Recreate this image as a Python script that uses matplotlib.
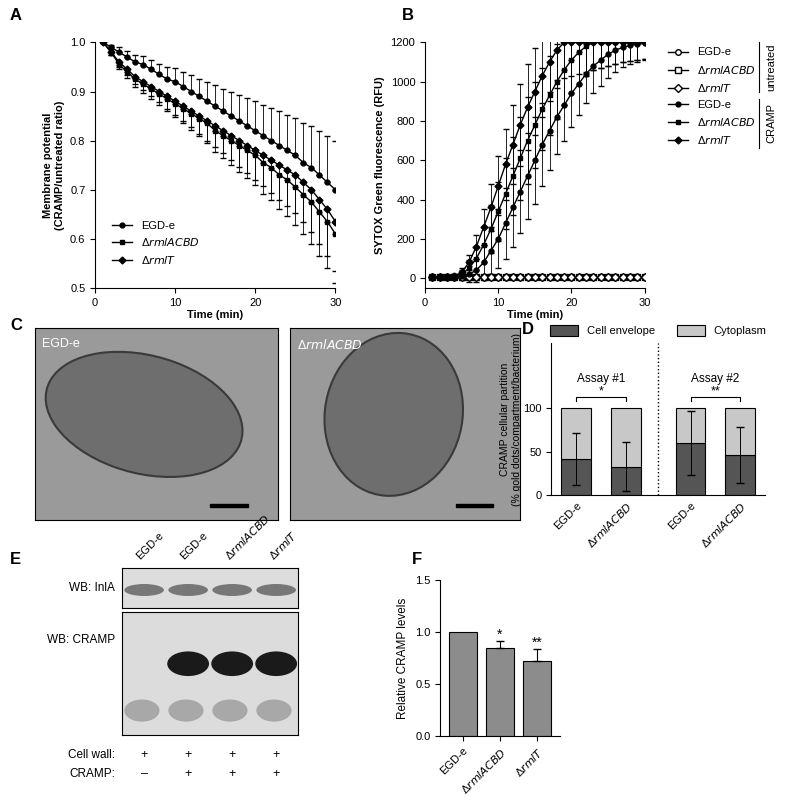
import matplotlib
matplotlib.use("Agg")
import matplotlib.pyplot as plt
import numpy as np
from matplotlib.patches import Ellipse, Rectangle
from matplotlib.lines import Line2D

plt.rcParams['font.family'] = ['Liberation Sans', 'DejaVu Sans']
plt.rcParams['font.size'] = 8

# ---- data ----
time_a = list(range(1, 31))
mp_egde = [1.0,0.99,0.98,0.97,0.96,0.955,0.945,0.935,0.925,0.92,0.91,0.9,0.89,0.88,0.87,0.86,0.85,0.84,0.83,0.82,0.81,0.80,0.79,0.78,0.77,0.755,0.745,0.73,0.715,0.70]
mp_acbd = [1.0,0.98,0.955,0.94,0.925,0.915,0.905,0.895,0.885,0.875,0.865,0.855,0.845,0.835,0.82,0.81,0.80,0.79,0.78,0.77,0.755,0.745,0.73,0.72,0.705,0.69,0.675,0.655,0.635,0.61]
mp_rmlt = [1.0,0.98,0.96,0.945,0.93,0.92,0.91,0.90,0.89,0.88,0.87,0.86,0.85,0.84,0.83,0.82,0.81,0.80,0.79,0.78,0.77,0.76,0.75,0.74,0.73,0.715,0.70,0.68,0.66,0.635]
mp_err = [0,0.005,0.01,0.012,0.015,0.017,0.02,0.022,0.025,0.027,0.03,0.033,0.036,0.04,0.043,0.046,0.05,0.053,0.056,0.06,0.063,0.066,0.07,0.073,0.077,0.08,0.085,0.09,0.095,0.1]

sx_unt = [5]*30
sx_egde = [5,5,5,5,10,20,40,80,140,200,280,360,440,520,600,680,750,820,880,940,990,1040,1080,1110,1140,1160,1175,1185,1190,1195]
sx_acbd = [5,5,5,10,20,50,100,170,250,340,430,520,610,700,780,860,930,1000,1060,1110,1150,1180,1200,1200,1200,1200,1200,1200,1200,1200]
sx_rmlt = [5,5,5,10,30,80,160,260,360,470,580,680,780,870,950,1030,1100,1160,1200,1200,1200,1200,1200,1200,1200,1200,1200,1200,1200,1200]
sx_err = [5,5,5,10,20,40,60,90,120,150,180,200,210,220,220,210,200,190,180,170,160,150,140,130,120,110,100,95,90,85]

d_labels = ['EGD-e', 'ΔrmlACBD', 'EGD-e', 'ΔrmlACBD']
d_env = [42, 33, 60, 46]
d_env_err = [30, 28, 37, 32]

f_labels = ['EGD-e', 'ΔrmlACBD', 'ΔrmlT']
f_vals = [1.0, 0.85, 0.72]
f_err = [0.0, 0.06, 0.12]

e_lanes = ['EGD-e', 'EGD-e', 'ΔrmlACBD', 'ΔrmlT']
e_cellwall = ['+', '+', '+', '+']
e_cramp = ['–', '+', '+', '+']

def fmt(l):
    return l if not l.startswith('Δ') else r'Δ$\it{' + l[1:] + '}$'

fig = plt.figure(figsize=(7.93, 8.0), dpi=100)

def lab(x, y, s):
    fig.text(x/793, 1-y/800, s, fontsize=12, fontweight='bold', va='center', ha='left')

lab(10, 15, 'A'); lab(402, 15, 'B'); lab(10, 325, 'C'); lab(522, 330, 'D'); lab(10, 560, 'E'); lab(412, 560, 'F')

def style(ax):
    for s in ['top', 'right']:
        ax.spines[s].set_visible(False)
    ax.tick_params(labelsize=8)

# ---- A ----
ax = fig.add_axes([0.120, 0.64, 0.303, 0.307])
for y, m in [(mp_egde, 'o'), (mp_acbd, 's'), (mp_rmlt, 'D')]:
    up = y is mp_egde
    ax.errorbar(time_a, y, yerr=[[0]*30 if up else mp_err, mp_err if up else [0]*30], color='k', marker=m, ms=3.5, lw=1, elinewidth=0.6, capsize=2)
ax.set_xlim(0, 30); ax.set_ylim(0.5, 1.0)
ax.set_xticks([0, 10, 20, 30]); ax.set_yticks(np.arange(0.5, 1.01, 0.1))
ax.set_xlabel('Time (min)', fontweight='bold', labelpad=2)
ax.set_ylabel('Membrane potential\n(CRAMP/untreated ratio)', fontweight='bold')
hA = [Line2D([], [], color='k', marker=m, ms=3.5, lw=1) for m in 'osD']
ax.legend(hA, [fmt(l) for l in ['EGD-e', 'ΔrmlACBD', 'ΔrmlT']], frameon=False, loc='lower left', bbox_to_anchor=(0.03, 0.05), fontsize=8, handlelength=1.8)
style(ax)

# ---- B ----
ax = fig.add_axes([0.536, 0.64, 0.277, 0.307])
for m in 'osD':
    ax.errorbar(time_a, sx_unt, yerr=5, color='k', marker=m, mfc='white', ms=4, lw=1, elinewidth=0.6, capsize=1.5)
for y, m in [(sx_egde, 'o'), (sx_acbd, 's'), (sx_rmlt, 'D')]:
    ax.errorbar(time_a, y, yerr=sx_err, color='k', marker=m, ms=3.5, lw=1, elinewidth=0.6, capsize=2)
ax.set_xlim(0, 30); ax.set_ylim(-50, 1200)
ax.set_xticks([0, 10, 20, 30]); ax.set_yticks(range(0, 1201, 200))
ax.set_xlabel('Time (min)', fontweight='bold', labelpad=2)
ax.set_ylabel('SYTOX Green fluorescence (RFU)', fontweight='bold')
style(ax)
hB = [Line2D([], [], color='k', marker=m, mfc='white', ms=4, lw=1) for m in 'osD'] + \
     [Line2D([], [], color='k', marker=m, ms=3.5, lw=1) for m in 'osD']
lB = [fmt(l) for l in ['EGD-e', 'ΔrmlACBD', 'ΔrmlT'] * 2]
ax.legend(hB, lB, frameon=False, loc='upper left', bbox_to_anchor=(1.06, 1.02), fontsize=8, handlelength=1.8, labelspacing=0.55)
fig.add_artist(Line2D([0.957, 0.957], [0.885, 0.948], color='k', lw=0.8))
fig.add_artist(Line2D([0.957, 0.957], [0.815, 0.876], color='k', lw=0.8))
fig.text(0.973, 0.916, 'untreated', rotation=90, va='center', ha='center', fontsize=8)
fig.text(0.973, 0.846, 'CRAMP', rotation=90, va='center', ha='center', fontsize=8)

# ---- C (micrograph placeholders) ----
for rect, name, ang in [([0.044, 0.35, 0.306, 0.24], 'EGD-e', -25), ([0.366, 0.35, 0.29, 0.24], 'ΔrmlACBD', 85)]:
    ax = fig.add_axes(rect)
    ax.set_facecolor('#9a9a9a')
    ax.set_xlim(0, 1); ax.set_ylim(0, 1)
    ax.add_patch(Ellipse((0.45, 0.55), 0.85, 0.6, angle=ang, fc='#6e6e6e', ec='#3a3a3a', lw=1.5))
    ax.add_patch(Rectangle((0.72, 0.07), 0.16, 0.012, color='k'))
    ax.text(0.03, 0.95, fmt(name), color='white', va='top', fontsize=9)
    ax.set_xticks([]); ax.set_yticks([])

# ---- D ----
ax = fig.add_axes([0.695, 0.381, 0.27, 0.19])
xd = [0, 1, 2.3, 3.3]
ax.bar(xd, d_env, width=0.6, color='#555555', ec='k', lw=0.8, label='Cell envelope')
ax.bar(xd, [100-v for v in d_env], bottom=d_env, width=0.6, color='#c8c8c8', ec='k', lw=0.8, label='Cytoplasm')
ax.errorbar(xd, d_env, yerr=d_env_err, fmt='none', ecolor='k', elinewidth=0.7, capsize=3)
ax.axvline(1.65, color='k', ls=':', lw=1)
ax.set_ylim(0, 175); ax.set_xlim(-0.5, 3.8)
ax.set_yticks([0, 50, 100])
ax.set_xticks(xd)
ax.set_xticklabels([fmt(l) for l in d_labels], rotation=45, ha='right', rotation_mode='anchor', fontsize=8)
ax.set_ylabel('CRAMP cellular partition\n(% gold dots/compartment/bacterium)', fontsize=7.5, labelpad=1)
for a, b, s in [(0, 1, '*'), (2.3, 3.3, '**')]:
    ax.plot([a, a, b, b], [108, 113, 113, 108], color='k', lw=0.8)
    ax.text((a+b)/2, 112, s, ha='center', va='bottom', fontsize=9)
ax.text(0.5, 130, 'Assay #1', ha='center', fontsize=8.5)
ax.text(2.8, 130, 'Assay #2', ha='center', fontsize=8.5)
ax.spines['top'].set_visible(False); ax.spines['right'].set_visible(False); ax.spines['bottom'].set_visible(False)
ax.tick_params(axis='x', length=0)
ax.plot([-0.5, 3.8], [0, 0], color='k', lw=0.8, clip_on=False)
ax.legend(frameon=False, ncol=2, loc='lower center', bbox_to_anchor=(0.5, 0.98), fontsize=8, handlelength=2.5, handleheight=1.2)

# ---- E (blot placeholders) ----
bx0, bw = 0.154, 0.222
for i, l in enumerate(e_lanes):
    xc = bx0 + bw*(i+0.5)/4
    fig.text(xc - 0.012, 0.298, fmt(l), rotation=45, ha='left', va='bottom', fontsize=8)
ax = fig.add_axes([bx0, 0.24, bw, 0.05])
ax.set_facecolor('#dddddd'); ax.set_xlim(0, 4); ax.set_ylim(0, 1)
for i in range(4):
    ax.add_patch(Ellipse((i+0.5, 0.45), 0.9, 0.3, fc='#777777', ec='none'))
ax.set_xticks([]); ax.set_yticks([])
ax = fig.add_axes([bx0, 0.081, bw, 0.154])
ax.set_facecolor('#dcdcdc'); ax.set_xlim(0, 4); ax.set_ylim(0, 1)
for i in range(1, 4):
    ax.add_patch(Ellipse((i+0.5, 0.58), 0.95, 0.2, fc='#1a1a1a', ec='none'))
for i in range(4):
    ax.add_patch(Ellipse((i+0.45, 0.2), 0.8, 0.18, fc='#a8a8a8', ec='none'))
ax.set_xticks([]); ax.set_yticks([])
fig.text(0.145, 0.265, 'WB: InlA', ha='right', va='center', fontsize=8.5)
fig.text(0.145, 0.2, 'WB: CRAMP', ha='right', va='center', fontsize=8.5)
fig.text(0.145, 0.056, 'Cell wall:', ha='right', va='center', fontsize=8.5)
fig.text(0.145, 0.032, 'CRAMP:', ha='right', va='center', fontsize=8.5)
for i in range(4):
    xc = bx0 + bw*(i+0.5)/4
    fig.text(xc, 0.056, e_cellwall[i], ha='center', va='center', fontsize=9)
    fig.text(xc, 0.032, e_cramp[i], ha='center', va='center', fontsize=9)

# ---- F ----
ax = fig.add_axes([0.555, 0.08, 0.151, 0.195])
xf = np.arange(3)
ax.bar(xf, f_vals, width=0.75, color='#8c8c8c', ec='k', lw=0.8)
ax.errorbar(xf[1:], f_vals[1:], yerr=[[0, 0], f_err[1:]], fmt='none', ecolor='k', elinewidth=0.8, capsize=3)
ax.text(1, 0.93, '*', ha='center', fontsize=10)
ax.text(2, 0.86, '**', ha='center', fontsize=10)
ax.set_ylim(0, 1.5); ax.set_xlim(-0.6, 2.6)
ax.set_yticks([0, 0.5, 1.0, 1.5])
ax.set_xticks(xf)
ax.set_xticklabels([fmt(l) for l in f_labels], rotation=45, ha='right', rotation_mode='anchor')
ax.set_ylabel('Relative CRAMP levels', fontsize=8.5)
style(ax)

fig.savefig('out.png', dpi=100)
